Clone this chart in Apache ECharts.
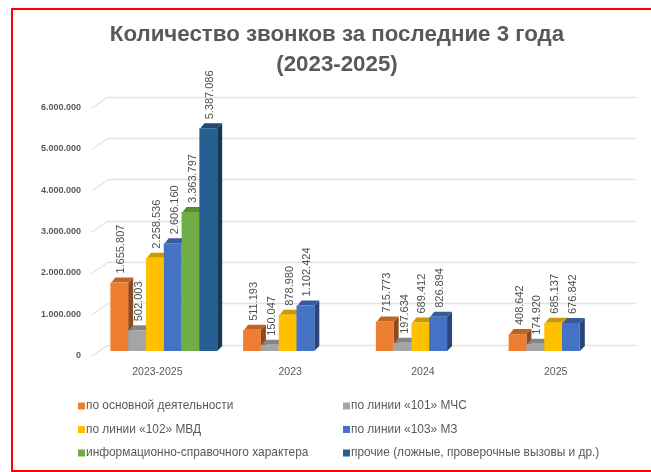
<!DOCTYPE html>
<html><head><meta charset="utf-8">
<style>html,body{margin:0;padding:0;background:#fff}#chart{width:651px;height:472px;filter:blur(0.55px)}</style>
<script src="https://cdn.jsdelivr.net/npm/echarts@6/dist/echarts.min.js"></script>
</head><body><div id="chart"></div>
<script>
const categories = ['2023-2025','2023','2024','2025'];
const seriesNames = ['по основной деятельности','по линии «101» МЧС','по линии «102» МВД','по линии «103» МЗ','информационно-справочного характера','прочие (ложные, проверочные вызовы и др.)'];
const osnovnaya = [1655807,511193,715773,408642];
const mchs = [502003,150047,197634,174920];
const mvd = [2258536,878980,689412,685137];
const mz = [2606160,1102424,826894,676842];
const spravka = [3363797,null,null,null];
const prochie = [5387086,null,null,null];
const seriesValues = [osnovnaya,mchs,mvd,mz,spravka,prochie];
const colors = ['#ED7D31','#A5A5A5','#FFC000','#4472C4','#70AD47','#255E91'];
const sideColors = ['#8f4a1c','#636363','#997300','#294579','#436830','#163855'];
const topColors = ['#bd6427','#848484','#cc9a00','#365b9d','#5a8a39','#1e4b74'];
const yTicks = [0,1000000,2000000,3000000,4000000,5000000,6000000];
const titleText = 'Количество звонков за последние 3 года\n(2023-2025)';

const fmt = v => String(v).replace(/\B(?=(\d{3})+$)/g,'.');
const W = 17.8, D = 5, SHIFT = -29;

function barRenderer(si){
  return function(params, api){
    const v = api.value(1);
    if (v == null || isNaN(v)) return null;
    const p = api.coord([api.value(0), v]);
    const b = api.coord([api.value(0), 0]);
    const x = p[0] + SHIFT - 18 + si*W, y = p[1], x2 = x+W, y0 = b[1];
    const poly = (pts,fill)=>({type:'polygon',shape:{points:pts},style:{fill:fill}});
    return {type:'group',children:[
      poly([[x2,y],[x2+D,y-D],[x2+D,y0-D],[x2,y0]],sideColors[si]),
      poly([[x+1,y],[x+D,y-D],[x2+D,y-D],[x2,y]],topColors[si]),
      {type:'rect',shape:{x:x,y:y,width:W,height:y0-y},style:{fill:colors[si]}},
      {type:'text',x:x+W/2+2,y:y-D-4,rotation:Math.PI/2,
       style:{text:fmt(v),align:'left',verticalAlign:'middle',fontSize:11,fontFamily:'Liberation Sans',fill:'#505050'}}
    ]};
  };
}
const barSeries = seriesNames.map((name,si)=>({
  name:name,type:'custom',xAxisIndex:1,yAxisIndex:1,
  itemStyle:{color:colors[si]},
  renderItem:barRenderer(si),
  encode:{x:0,y:1},
  data:categories.map((c,i)=>[i,seriesValues[si][i]])
}));
const slant = {type:'custom',xAxisIndex:0,yAxisIndex:0,silent:true,
  renderItem:function(params,api){
    const p = api.coord([0,api.value(1)]);
    return {type:'line',shape:{x1:p[0],y1:p[1],x2:p[0]-16,y2:p[1]+11},style:{stroke:'#e2e2e2',lineWidth:1.2}};
  },
  encode:{x:0,y:1},
  data:yTicks.map(t=>[0,t])
};
const legendText = {fontFamily:'Liberation Sans',fontSize:11.9,color:'#595959',padding:[0,0,0,-4]};
const chart = echarts.init(document.getElementById('chart'),null,{renderer:'canvas'});
chart.setOption({
  animation:false,backgroundColor:'#fff',
  title:{text:titleText,left:332,top:15,textAlign:'center',
    textStyle:{fontFamily:'Liberation Sans',fontSize:22.3,fontWeight:'bold',color:'#595959',lineHeight:30}},
  graphic:[{type:'rect',shape:{x:12,y:9,width:700,height:462},style:{fill:'none',stroke:'#ff0000',lineWidth:2},silent:true}],
  legend:[
    {data:[seriesNames[0],seriesNames[2],seriesNames[4]],orient:'vertical',left:73,top:395,itemWidth:7,itemHeight:7,itemGap:11.5,icon:'rect',textStyle:legendText},
    {data:[seriesNames[1],seriesNames[3],seriesNames[5]],orient:'vertical',left:338,top:395,itemWidth:7,itemHeight:7,itemGap:11.5,icon:'rect',textStyle:legendText}
  ],
  grid:[
    {left:108,right:15,top:97,height:248},
    {left:91,width:531,top:103,height:248}
  ],
  xAxis:[
    {gridIndex:0,type:'value',min:0,max:1,show:false},
    {gridIndex:1,type:'category',data:categories,axisLine:{show:false},axisTick:{show:false},
     axisLabel:{margin:16,fontFamily:'Liberation Sans',fontSize:10.5,color:'#595959'}}
  ],
  yAxis:[
    {gridIndex:0,type:'value',min:0,max:6000000,interval:1000000,
     axisLine:{show:false},axisTick:{show:false},
     splitLine:{lineStyle:{color:'#e2e2e2',width:1.3}},
     axisLabel:{margin:27,verticalAlign:'top',padding:[6,0,0,0],fontFamily:'Liberation Sans',fontSize:9,fontWeight:'bold',color:'#595959',formatter:v=>fmt(v)}},
    {gridIndex:1,type:'value',min:0,max:6000000,interval:1000000,show:false}
  ],
  series:[slant].concat(barSeries)
});
</script></body></html>
